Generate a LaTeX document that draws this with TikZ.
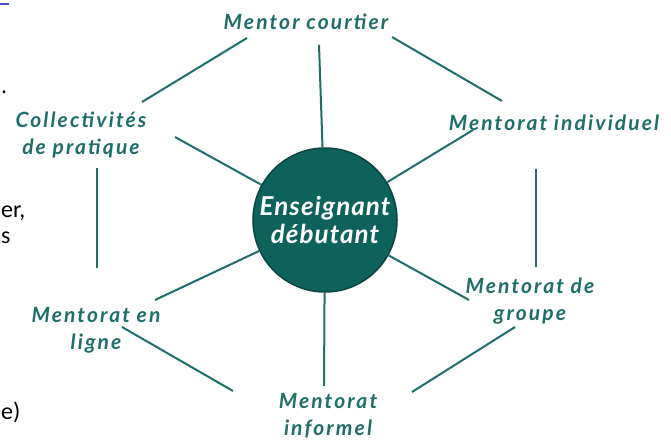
\documentclass[tikz,border=0pt]{standalone}
\usepackage{fontspec}
\setmainfont{Lato}
\newfontfamily\pagefont{Carlito}
\newfontfamily\etiquettefont[LetterSpace=10]{Lato}
\newfontfamily\centrefont[LetterSpace=4]{Lato}
\definecolor{sarcelle}{HTML}{1F6E69}
\definecolor{sarcellefonce}{HTML}{0D625C}
\definecolor{bordcercle}{HTML}{0A4440}
\definecolor{lienbleu}{HTML}{4A4AC8}
\begin{document}
\begin{tikzpicture}[x=1pt, y=-1pt,
    etiquette/.style={text=sarcelle, inner sep=0pt, align=center,
      font=\etiquettefont\fontsize{21}{27}\selectfont\bfseries\itshape},
    debutant/.style={circle, draw=bordcercle, line width=1.5pt, fill=sarcellefonce,
      minimum size=144pt, inner sep=0pt, text=white, align=center,
      font=\centrefont\fontsize{26}{28}\selectfont\bfseries\itshape},
    lien/.style={draw=sarcelle, line width=2pt},
    bord/.style={inner sep=0pt, anchor=west, font=\fontsize{24}{24}\pagefont}]
  \useasboundingbox (0,0) rectangle (671,443);
  % le centre
  \node[debutant] (centre) at (325,220) {Enseignant\\débutant};
  % les six formes de mentorat
  \node[etiquette] (courtier) at (306,22) {Mentor courtier};
  \node[etiquette] (individuel) at (554,123) {Mentorat individuel};
  \node[etiquette] (groupe) at (530,301) {Mentorat de\\groupe};
  \node[etiquette] (informel) at (328,416) {Mentorat\\informel};
  \node[etiquette] (enligne) at (96,330) {Mentorat en\\ligne};
  \node[etiquette] (collectivites) at (81,135) {Collectivités\\de pratique};
  % rayons
  \draw[lien] (centre) -- ([shift={(13,23)}]courtier.center);
  \draw[lien] (centre) -- ([shift={(-81,7)}]individuel.center);
  \draw[lien] (centre) -- ([shift={(-61,-1)}]groupe.center);
  \draw[lien] (centre) -- ([shift={(-4,-30)}]informel.center);
  \draw[lien] (centre) -- ([shift={(59,-30)}]enligne.center);
  \draw[lien] (centre) -- ([shift={(94,2)}]collectivites.center);
  % le tour
  \draw[lien] ([shift={(86,15)}]courtier.center) -- ([shift={(-52,-22)}]individuel.center);
  \draw[lien] ([shift={(-18,46)}]individuel.center) -- ([shift={(6,-34)}]groupe.center);
  \draw[lien] ([shift={(-15,26)}]groupe.center) -- ([shift={(84,-24)}]informel.center);
  \draw[lien] ([shift={(-95,-25)}]informel.center) -- ([shift={(26,-3)}]enligne.center);
  \draw[lien] ([shift={(1,-62)}]enligne.center) -- ([shift={(16,33)}]collectivites.center);
  \draw[lien] ([shift={(61,-33)}]collectivites.center) -- ([shift={(-59,16)}]courtier.center);
  % restes du texte de la page
  \fill[lienbleu] (0,3) rectangle (9,5.5);
  \node[bord] (point) at (1,92) {.};
  \node[bord] (virgule) at (1,213) {er,};
  \node[bord] (lettre) at (1,238) {s};
  \node[bord] (parenthese) at (1,412) {e)};
\end{tikzpicture}
\end{document}
